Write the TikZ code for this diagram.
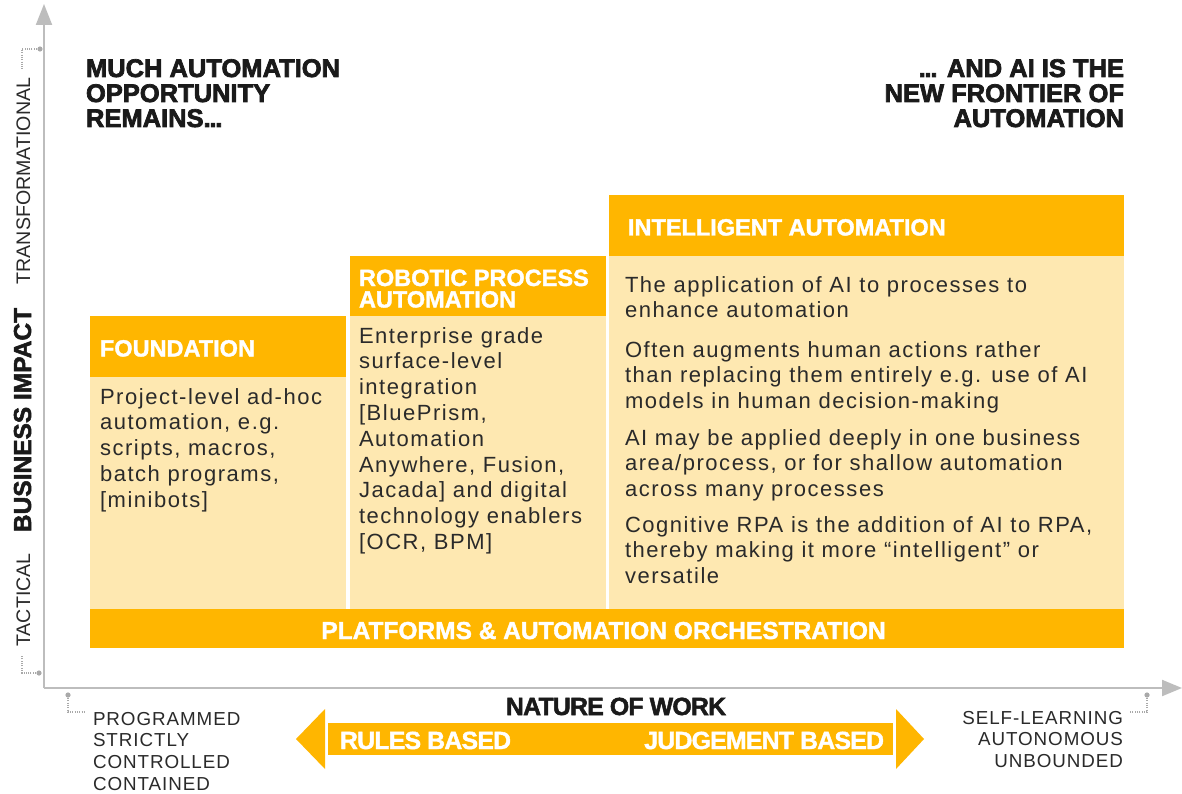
\documentclass[tikz,border=0pt]{standalone}
\usepackage{fontspec}
\usetikzlibrary{arrows.meta}
\setmainfont{Liberation Sans}
\newfontfamily\bodyf{Liberation Sans}[LetterSpace=7]
\newfontfamily\capf{Liberation Sans}[LetterSpace=5]
\newfontfamily\condf{Liberation Sans}[LetterSpace=-3]
\definecolor{orng}{HTML}{FFB600}
\definecolor{lite}{HTML}{FEE8B1}
\definecolor{ink}{HTML}{2A2A2A}
\definecolor{blk}{HTML}{1A1A1A}
\definecolor{axisg}{HTML}{BDBDBD}
\definecolor{dotg}{HTML}{A9A9A9}
\newcommand{\fstrut}[1]{\rule{0pt}{#1pt}}
\newcommand{\heavy}[2]{\special{pdf:literal 2 Tr #1 w}#2\special{pdf:literal 0 Tr}}
\newcommand{\tightdots}{.\kern-1.2pt.\kern-1.2pt.}
\begin{document}
\begin{tikzpicture}[x=1pt,y=-1pt,
  every node/.style={inner sep=0pt,outer sep=0pt},
  hdrtext/.style={font=\fontsize{23.5}{21.5}\selectfont\bfseries,text=white,anchor=north west,align=left},
  bodytext/.style={font=\bodyf\fontsize{22}{25.8}\selectfont,text=ink,anchor=north west,align=left},
  bigtitle/.style={font=\fontsize{25.5}{25}\selectfont\bfseries,text=blk},
  axislbl/.style={font=\fontsize{19.6}{20}\selectfont,text=ink,rotate=90,anchor=base},
  endlbl/.style={font=\capf\fontsize{18.8}{21.7}\selectfont,text=ink},
  condtext/.style={font=\condf\fontsize{24.8}{25}\selectfont\bfseries},
  axisline/.style={axisg,line width=2pt},
  dotline/.style={dotg,line width=1.2pt,dash pattern=on 1pt off 1.3pt},
  dotend/.style={fill=dotg},
  hdrbox/.style={fill=orng},
  bodybox/.style={fill=lite}
]
\useasboundingbox (0,0) rectangle (1182,794);
\fill[white] (0,0) rectangle (1182,794);

% ---- axes ----
\coordinate (origin) at (44,688);
\coordinate (ytip) at (44,4);
\coordinate (xtip) at (1182,688);
\draw[axisline,-{Triangle[length=21pt,width=16pt]}] (origin) -- (ytip);
\draw[axisline,-{Triangle[length=20pt,width=16pt]}] (origin) -- (xtip);

% ---- dotted markers ----
\coordinate (m1) at (40,49);
\draw[dotline] (m1) ++(-3,0) -- (22,49) -- (22,70);
\fill[dotend] (m1) circle[radius=2.6pt];
\coordinate (m2) at (39,673);
\draw[dotline] (m2) ++(-3,0) -- (22,673) -- (22,655);
\fill[dotend] (m2) circle[radius=2.6pt];
\coordinate (m3) at (68,695);
\draw[dotline] (m3) ++(0,3) -- (68,712) -- (86,712);
\fill[dotend] (m3) circle[radius=2.6pt];
\coordinate (m4) at (1147,695);
\draw[dotline] (m4) ++(0,3) -- (1147,712) -- (1129,712);
\fill[dotend] (m4) circle[radius=2.6pt];

% ---- axis labels ----
\node[axislbl] (ltrans) at (30,181) {TRANSFORMATIONAL};
\node[axislbl,font=\fontsize{24.5}{25}\selectfont\bfseries,text=blk] (limpact) at (31,420) {\heavy{0.5}{BUSINESS IMPACT}};
\node[axislbl] (ltact) at (30,600) {TACTICAL};

% ---- titles ----
\node[bigtitle,anchor=north west,align=left] (tleft) at (86,58.7)
  {\heavy{0.7}{\fstrut{18.3}MUCH AUTOMATION}\\\heavy{0.7}{OPPORTUNITY}\\\heavy{0.7}{REMAINS\tightdots}};
\node[bigtitle,anchor=north east,align=right] (tright) at (1124,58.7)
  {\heavy{0.7}{\fstrut{18.3}\tightdots{} AND AI IS THE}\\\heavy{0.7}{NEW FRONTIER OF}\\\heavy{0.7}{AUTOMATION}};

% ---- columns ----
\fill[hdrbox] (90,316) rectangle (346,377);
\fill[bodybox] (90,377) rectangle (346,609);
\fill[hdrbox] (350,256) rectangle (606,316);
\fill[bodybox] (350,316) rectangle (606,609);
\fill[hdrbox] (609,195) rectangle (1124,256);
\fill[bodybox] (609,256) rectangle (1124,609);
\fill[hdrbox] (90,609) rectangle (1124,648);

\node[hdrtext] (hfound) at (100,339.5) {\heavy{0.35}{\fstrut{17}FOUNDATION}};
\node[hdrtext] (hrpa1) at (359,269) {\heavy{0.35}{\fstrut{17}ROBOTIC PROCESS}};
\node[hdrtext] (hrpa2) at (359,290.5) {\heavy{0.35}{\fstrut{17}AUTOMATION}};
\node[hdrtext] (hia) at (628,218.5) {\heavy{0.35}{\fstrut{17}INTELLIGENT AUTOMATION}};

\node[bodytext] (bfound) at (100,386)
  {\fstrut{18}Project-level ad-hoc\\automation, e.g.\\scripts, macros,\\batch programs,\\{[}minibots]};
\node[bodytext] (brpa) at (359,325)
  {\fstrut{18}Enterprise grade\\surface-level\\integration\\{[}BluePrism,\\Automation\\Anywhere, Fusion,\\Jacada] and digital\\technology enablers\\{[}OCR, BPM]};
\node[bodytext] (bia1) at (625,274)
  {\fstrut{18}The application of AI to processes to\\enhance automation};
\node[bodytext] (bia2) at (625,339)
  {\fstrut{18}Often augments human actions rather\\than replacing them entirely e.g. use of AI\\models in human decision-making};
\node[bodytext] (bia3) at (625,427)
  {\fstrut{18}AI may be applied deeply in one business\\area/process, or for shallow automation\\across many processes};
\node[bodytext] (bia4) at (625,514)
  {\fstrut{18}Cognitive RPA is the addition of AI to RPA,\\thereby making it more “intelligent” or\\versatile};

\node[text=white,anchor=base,font=\fontsize{24.5}{25}\selectfont\bfseries] (platf) at (603.5,639)
  {\heavy{0.4}{PLATFORMS \& AUTOMATION ORCHESTRATION}};

% ---- nature of work ----
\node[condtext,text=blk,anchor=base] (nature) at (616,715) {\heavy{0.5}{NATURE OF WORK}};
\fill[orng] (296,739) -- (325,709) -- (325,769) -- cycle;
\fill[orng] (328,723) rectangle (893,755);
\fill[orng] (924,739) -- (896,709) -- (896,769) -- cycle;
\node[condtext,text=white,anchor=base west] (rules) at (340,749) {\heavy{0.4}{RULES BASED}};
\node[condtext,text=white,anchor=base east] (judge) at (884,749) {\heavy{0.4}{JUDGEMENT BASED}};

\node[endlbl,anchor=north west,align=left] (lleft) at (93,710)
  {\fstrut{15}PROGRAMMED\\STRICTLY\\CONTROLLED\\CONTAINED};
\node[endlbl,anchor=north east,align=right] (lright) at (1123,709)
  {\fstrut{15}SELF-LEARNING\\AUTONOMOUS\\UNBOUNDED};
\end{tikzpicture}
\end{document}
